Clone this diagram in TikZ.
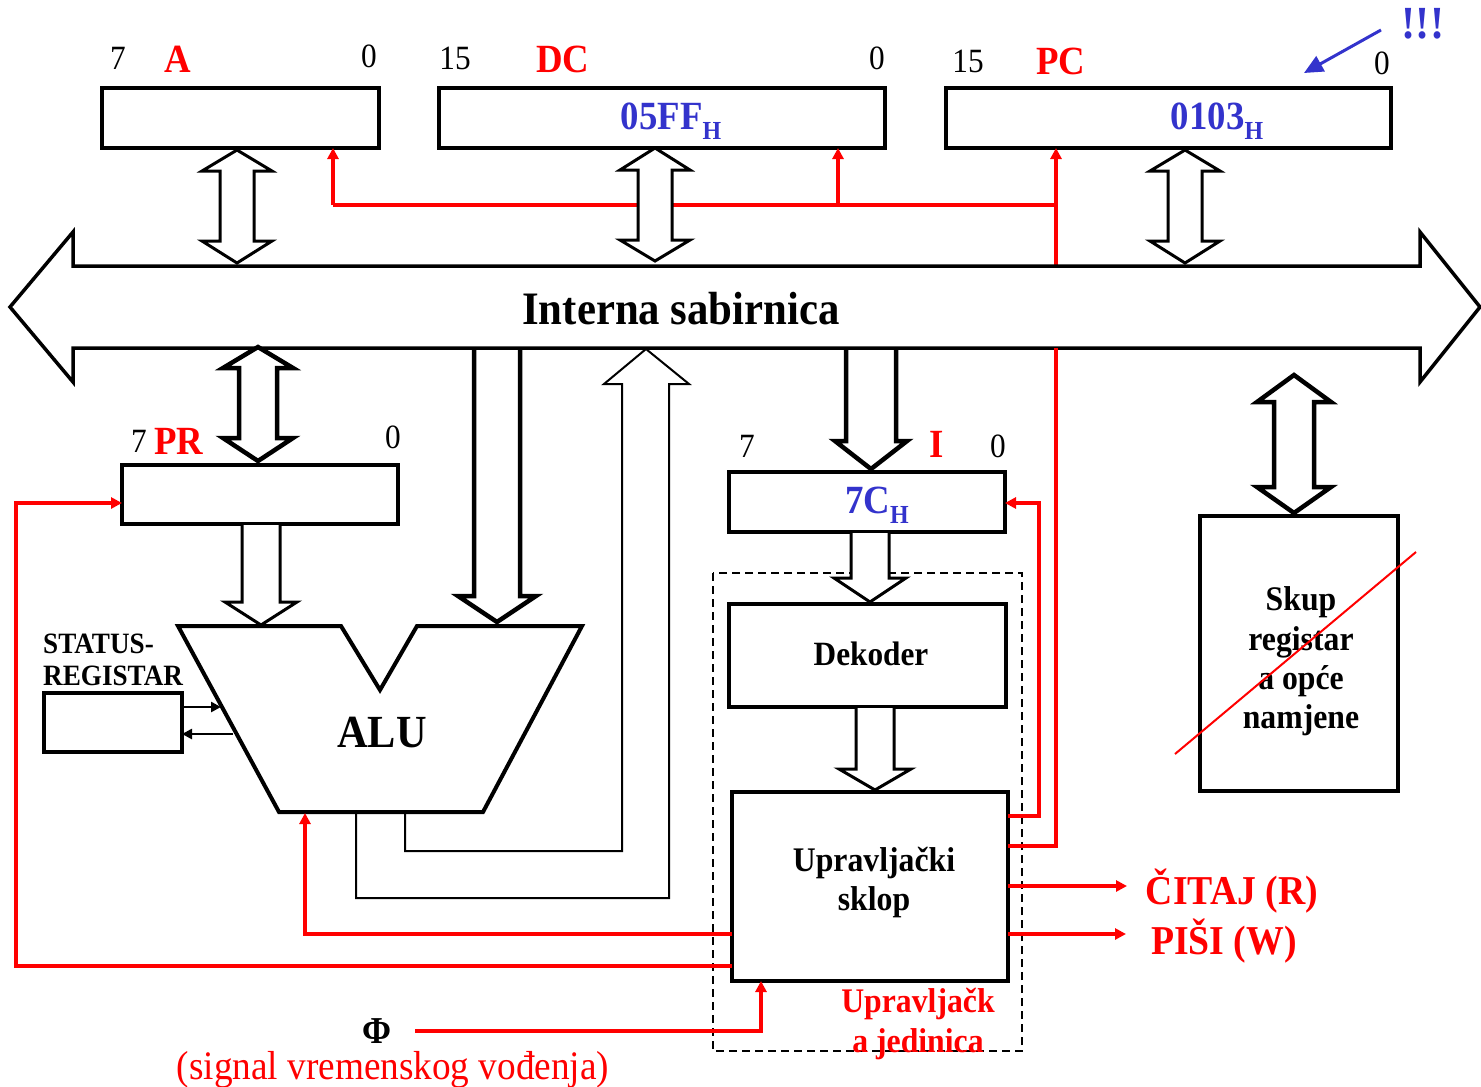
\documentclass[tikz,border=0pt]{standalone}
\usepackage{fontspec}
\setmainfont[FakeStretch=0.92]{Liberation Serif}
\usetikzlibrary{arrows.meta}
\definecolor{bluetxt}{RGB}{51,51,204}
\newcommand{\fs}[1]{\fontsize{#1}{#1}\selectfont}
\tikzset{
  x=1pt,y=-1pt,
  box/.style={draw=black,line width=3.5pt,fill=white,inner sep=0pt,outer sep=0pt},
  redline/.style={draw=red,line width=3.5pt,line join=miter},
  redarrow/.style={redline,-{Triangle[length=11pt,width=11pt]}},
  blockA/.style={draw=black,fill=white,line width=3pt,line join=miter},
  blockB/.style={draw=black,fill=white,line width=4.5pt,line join=miter},
  num/.style={font=\fs{34},text=black,inner sep=0pt},
  rname/.style={font=\fs{40}\bfseries,text=red,inner sep=0pt},
  blab/.style={font=\fs{38}\bfseries,text=black,inner sep=0pt,align=center},
  val/.style={font=\fs{40}\bfseries,text=bluetxt,inner sep=0pt},
}
% x, ytop, ybottom, head half, shaft half, yhead1, yhead2, style
\newcommand{\dblarrow}[8]{\draw[#8] (#1,#2) -- (#1+#4,#6) -- (#1+#5,#6) -- (#1+#5,#7) -- (#1+#4,#7) -- (#1,#3) -- (#1-#4,#7) -- (#1-#5,#7) -- (#1-#5,#6) -- (#1-#4,#6) -- cycle;}
% x, ystart, ytip, head half, shaft half, yhead, style
\newcommand{\downarrowblk}[7]{\draw[#7] (#1-#5,#2) -- (#1-#5,#6) -- (#1-#4,#6) -- (#1,#3) -- (#1+#4,#6) -- (#1+#5,#6) -- (#1+#5,#2);}
\begin{document}
\begin{tikzpicture}
\useasboundingbox (0,0) rectangle (1481,1087);
% dashed control-unit frame
\draw[black,line width=2pt,dash pattern=on 8pt off 5pt] (713,573) rectangle (1022,1051);

% registers
\node[box,minimum width=277pt,minimum height=60pt] (A) at (240.5,118) {};
\node[box,minimum width=446pt,minimum height=60pt] (DC) at (662,118) {};
\node[box,minimum width=445pt,minimum height=60pt] (PC) at (1168.5,118) {};
\node[box,minimum width=276pt,minimum height=59pt] (PR) at (260,494.5) {};
\node[box,minimum width=276pt,minimum height=60pt] (I) at (867,502) {};
\node[box,minimum width=277pt,minimum height=103pt] (Dek) at (867.5,655.5) {};
\node[box,minimum width=276pt,minimum height=189pt] (Upr) at (870,886.5) {};
\node[box,minimum width=138pt,minimum height=59pt] (SR) at (113,722.5) {};
\node[box,minimum width=198pt,minimum height=275pt] (Skup) at (1299,653.5) {};

% red control lines above the bus
\coordinate (jA) at (333,205);
\coordinate (jD) at (838,205);
\coordinate (jP) at (1056,205);
\coordinate (busT) at (1056,266);
\coordinate (busB) at (1056,348);
\draw[redarrow] (jA) -- (A.south -| jA);
\draw[redline] (jA) -- (jP);
\draw[redarrow] (jD) -- (DC.south -| jD);
\draw[redarrow] (busT) -- (PC.south -| busT);

% double arrows to bus
\dblarrow{237}{150}{263}{35}{17}{171}{241}{blockA}
\dblarrow{655}{148}{261}{35}{17}{170}{240}{blockA}
\dblarrow{1185}{150}{263}{35}{17}{171}{241}{blockA}

% ALU
\draw[black,fill=white,line width=4pt,line join=miter] (178,626) -- (341,626) -- (380,690) -- (417,626) -- (582,626) -- (483,812) -- (279,812) -- cycle;
\node (ALU) at (382,733) [blab,font=\fs{46}\bfseries] {ALU};

% ALU result path
\draw[black,line width=2pt,line join=miter] (405,813) -- (405,851) -- (622,851) -- (622,384) -- (604,384) -- (646,349) -- (689,384) -- (669,384) -- (669,898) -- (356,898) -- (356,813);

% Internal bus
\draw[black,fill=white,line width=3.5pt,line join=miter] (10,307) -- (73,232) -- (73,266) -- (1420,266) -- (1420,232) -- (1480,307) -- (1420,382) -- (1420,348) -- (73,348) -- (73,382) -- cycle;
\node[blab,font=\fs{46.5}\bfseries] (bus) at (681,309) {Interna sabirnica};

% red line through below bus
\coordinate (u1) at (1056,846);
\coordinate (u2) at (1039,816);
\coordinate (u3) at (1039,503);
\draw[redline] (busB) -- (u1) -- (Upr.east |- u1);
\draw[redarrow] (Upr.east |- u2) -- (u2) -- (u3) -- (I.east |- u3);

% block arrows
\dblarrow{258}{347}{461}{35}{19}{368}{438}{blockB}
\dblarrow{1294}{375}{513}{37}{20}{402}{487}{blockB}
\downarrowblk{497}{350}{622}{39}{23}{596}{blockB}
\downarrowblk{871}{350}{469}{36}{25}{441}{blockB}
\downarrowblk{261}{525}{625}{36}{19}{602}{blockA}
\downarrowblk{870}{533}{602}{36}{19}{578}{blockA}
\downarrowblk{875}{708}{790}{36}{19}{769}{blockA}

% status arrows
\coordinate (s1) at (221,707);
\coordinate (s2) at (233,734);
\draw[black,line width=2.5pt,-{Triangle[length=10pt,width=10pt]}] (SR.east |- s1) -- (s1);
\draw[black,line width=2.5pt,-{Triangle[length=10pt,width=10pt]}] (s2) -- (SR.east |- s2);

% control lines from Upr
\coordinate (o1) at (1127,886);
\coordinate (o2) at (1126,934);
\coordinate (l1) at (305,934);
\coordinate (l2) at (16,966);
\coordinate (l3) at (16,503);
\draw[redarrow] (Upr.east |- o1) -- (o1);
\draw[redarrow] (Upr.east |- o2) -- (o2);
\draw[redarrow] (Upr.west |- l1) -- (l1) -- (305,813);
\draw[redarrow] (Upr.west |- l2) -- (l2) -- (l3) -- (PR.west |- l3);
\coordinate (ph0) at (415,1031);
\coordinate (ph1) at (761,1031);
\draw[redarrow] (ph0) -- (ph1) -- (Upr.south -| ph1);

% blue pointer
\coordinate (b0) at (1381,30);
\coordinate (b1) at (1304,73);
\draw[draw=bluetxt,line width=3pt,-{Triangle[length=19pt,width=17pt]}] (b0) -- (b1);

% numbers and names
\node[num] (n1) at (118,58) {7};
\node[rname] (tA) at (178,59) {A};
\node[num] (n2) at (369,56) {0};
\node[num] (n3) at (455,58) {15};
\node[rname] (tDC) at (563,59) {DC};
\node[num] (n4) at (877,58) {0};
\node[num] (n5) at (968,61) {15};
\node[rname] (tPC) at (1061,61) {PC};
\node[num] (n6) at (1382,63) {0};
\node[num] (n7) at (139,441) {7};
\node[rname] (tPR) at (179,441) {PR};
\node[num] (n8) at (393,437) {0};
\node[num] (n9) at (747,446) {7};
\node[rname] (tI) at (937,444) {I};
\node[num] (n10) at (998,446) {0};
\node[val,font=\fs{46}\bfseries] (ex) at (1423,24) {!!!};

% values
\node[val] (vDC) at (671,121) {05FF\raisebox{-10pt}{\fs{26}H}};
\node[val] (vPC) at (1217,121) {0103\raisebox{-10pt}{\fs{26}H}};
\node[val] (vI) at (877,505) {7C\raisebox{-10pt}{\fs{26}H}};

% block labels
\node[blab,font=\fs{34}\bfseries] (lDek) at (871,654) {Dekoder};
\node[blab,font=\fs{34.5}\bfseries,align=center] (lUpr) at (874,882.5) {Upravljački\\[5pt]sklop};
\node[blab,font=\fs{34.5}\bfseries,align=center] (lSkup) at (1301,661) {Skup\\[5pt]registar\\[5pt]a opće\\[4pt]namjene};
\node[blab,font=\fs{29.5}\bfseries,align=left,anchor=north west] (lSR) at (43,634) {STATUS-\\[2pt]REGISTAR};

\node[rname,font=\fs{34.5}\bfseries,align=center] (lUj) at (918,1024) {Upravljačk\\[5pt]a jedinica};
\node[rname,font=\fs{41}\bfseries] (tR) at (1232,891) {ČITAJ (R)};
\node[rname,font=\fs{41}\bfseries] (tW) at (1224,941) {PIŠI (W)};
\node[blab,font=\fs{38}\bfseries] (phi) at (377,1031) {Φ};
\node[num,text=red,font=\fs{40.5}] (sig) at (393,1070) {(signal vremenskog vođenja)};

% crossing line
\coordinate (c0) at (1175,754);
\coordinate (c1) at (1416,552);
\draw[red,line width=2pt] (c0) -- (c1);
\end{tikzpicture}
\end{document}
